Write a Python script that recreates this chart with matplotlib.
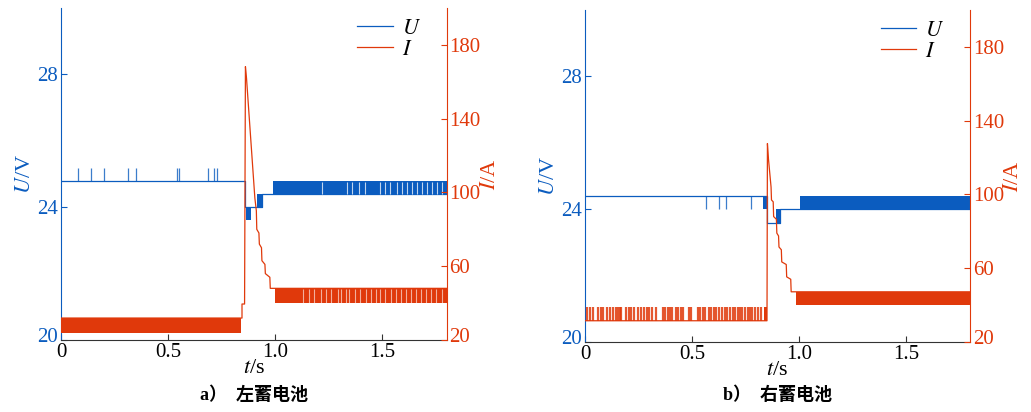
import matplotlib.pyplot as plt
import matplotlib.transforms as mtransforms
import numpy as np

plt.rcParams['font.family'] = ['Liberation Serif', 'Noto Sans CJK SC', 'DejaVu Sans']
plt.rcParams['mathtext.fontset'] = 'stix'

BLUE = '#0b5cbf'
RED = '#e0390b'

# ---- panel a) left battery ----
ua_t = [0, 0.858, 0.937, 1.8]
ua_v = [24.79, 24.0, 24.39, 24.39]
ua_bands = [(0.864, 0.886, 23.6, 24.0), (0.913, 0.937, 24.0, 24.39), (0.989, 1.8, 24.39, 24.79)]
ua_spikes = [0.081, 0.139, 0.201, 0.315, 0.350, 0.541, 0.553, 0.684, 0.715, 0.730]
ua_spike_lo, ua_spike_hi = 24.79, 25.19
ua_gaps = [1.218, 1.335, 1.358, 1.389, 1.420, 1.490, 1.514, 1.537, 1.568, 1.592,
           1.615, 1.638, 1.662, 1.685, 1.708, 1.732, 1.755, 1.778]

ia_t = [0, 0.845, 0.845, 0.857, 0.861, 0.866, 0.905, 0.912, 0.914, 0.924, 0.926,
        0.936, 0.938, 0.952, 0.954, 0.975, 0.977, 1.8]
ia_v = [31.9, 31.9, 39.5, 39.5, 168.2, 162.0, 97.0, 90.0, 80.0, 78.0, 72.0,
        70.0, 63.0, 61.0, 56.0, 54.0, 48.0, 48.0]
ia_bands = [(0, 0.84, 23.8, 31.9), (1.0, 1.8, 40.0, 48.0)]
ia_gaps = [1.128, 1.156, 1.183, 1.214, 1.238, 1.262, 1.293, 1.308, 1.329, 1.344,
           1.371, 1.394, 1.422, 1.448, 1.472, 1.490, 1.515, 1.541, 1.565, 1.588,
           1.611, 1.635, 1.658, 1.682, 1.705, 1.728, 1.752, 1.780]

# ---- panel b) right battery ----
ub_t = [0, 0.852, 0.913, 1.8]
ub_v = [24.4, 23.59, 24.0, 24.0]
ub_bands = [(0.833, 0.849, 24.0, 24.4), (0.892, 0.913, 23.59, 24.0), (1.003, 1.8, 24.0, 24.4)]
ub_spikes = [0.566, 0.628, 0.660, 0.776]
ub_spike_lo, ub_spike_hi = 24.0, 24.4

ib_t = [0, 0.851, 0.853, 0.858, 0.870, 0.872, 0.880, 0.882, 0.895, 0.897, 0.905,
        0.907, 0.918, 0.920, 0.941, 0.943, 0.962, 0.964, 1.8]
ib_v = [31.5, 31.5, 127.6, 119.0, 104.0, 97.0, 96.0, 88.0, 86.5, 79.0, 77.5,
        71.5, 70.0, 63.4, 62.0, 55.3, 54.0, 47.2, 47.2]
ib_bands = [(0.835, 0.852, 31.5, 39.1), (0.988, 1.8, 40.0, 47.2)]
ib_spikes = [0.011, 0.023, 0.039, 0.062, 0.073, 0.085, 0.103, 0.116, 0.131, 0.143,
             0.154, 0.162, 0.170, 0.193, 0.205, 0.216, 0.231, 0.247, 0.262, 0.278,
             0.290, 0.301, 0.313, 0.332, 0.363, 0.375, 0.386, 0.396, 0.409, 0.424,
             0.437, 0.448, 0.458, 0.486, 0.498, 0.529, 0.540, 0.551, 0.563, 0.579,
             0.591, 0.602, 0.613, 0.625, 0.640, 0.653, 0.664, 0.679, 0.690, 0.702,
             0.715, 0.725, 0.736, 0.748, 0.761, 0.772, 0.782, 0.795, 0.810, 0.823]
ib_spike_lo, ib_spike_hi = 31.5, 39.1

x_ticks = [0, 0.5, 1.0, 1.5]
x_labels = ['0', '0.5', '1.0', '1.5']
u_ticks = [20, 24, 28]
i_ticks = [20, 60, 100, 140, 180]

panels = [
    dict(rect=[0.0592, 0.1748, 0.3739, 0.8058], ut=ua_t, uv=ua_v, ubands=ua_bands,
         uspikes=ua_spikes, uslo=ua_spike_lo, ushi=ua_spike_hi, ugaps=ua_gaps,
         it=ia_t, iv=ia_v, ibands=ia_bands, ispikes=[], islo=0, ishi=0, igaps=ia_gaps,
         caption='a）  左蓄电池'),
    dict(rect=[0.5674, 0.1700, 0.3734, 0.8057], ut=ub_t, uv=ub_v, ubands=ub_bands,
         uspikes=ub_spikes, uslo=ub_spike_lo, ushi=ub_spike_hi, ugaps=[],
         it=ib_t, iv=ib_v, ibands=ib_bands, ispikes=ib_spikes, islo=ib_spike_lo,
         ishi=ib_spike_hi, igaps=[], caption='b）  右蓄电池'),
]

fig = plt.figure(figsize=(10.31, 4.12), dpi=100)
lift = mtransforms.ScaledTranslation(0, 5 / 100, fig.dpi_scale_trans)

for p in panels:
    ax = fig.add_axes(p['rect'])
    ax2 = ax.twinx()

    # voltage
    lu, = ax.plot(p['ut'], p['uv'], drawstyle='steps-post', color=BLUE, lw=0.9)
    for t0, t1, lo, hi in p['ubands']:
        ax.fill_between([t0, t1], lo, hi, color=BLUE, lw=0, step='post')
    if p['uspikes']:
        ax.vlines(p['uspikes'], p['uslo'], p['ushi'], color=BLUE, lw=0.9, alpha=0.8)
    if p['ugaps']:
        lo, hi = p['ubands'][-1][2], p['ubands'][-1][3]
        ax.vlines(p['ugaps'], lo + 0.02, hi - 0.02, color='white', lw=0.8, alpha=0.75)

    # current
    li, = ax2.plot(p['it'], p['iv'], color=RED, lw=0.9)
    for t0, t1, lo, hi in p['ibands']:
        ax2.fill_between([t0, t1], lo, hi, color=RED, lw=0, step='post')
    if p['ispikes']:
        ax2.vlines(p['ispikes'], p['islo'], p['ishi'], color=RED, lw=1.6, alpha=0.85)
    if p['igaps']:
        lo, hi = p['ibands'][-1][2], p['ibands'][-1][3]
        ax2.vlines(p['igaps'], lo + 0.3, hi - 0.3, color='white', lw=0.8, alpha=0.6)

    ax.set_xlim(0, 1.8)
    ax.set_ylim(20, 30)
    ax2.set_ylim(20, 200)
    ax.set_xticks(x_ticks)
    ax.set_xticklabels(x_labels)
    ax.set_yticks(u_ticks)
    ax2.set_yticks(i_ticks)

    for a in (ax, ax2):
        a.spines['top'].set_visible(False)
    ax.spines['right'].set_visible(False)
    ax.spines['left'].set_color(BLUE)
    ax2.spines['left'].set_visible(False)
    ax2.spines['right'].set_color(RED)
    ax.spines['bottom'].set_color('#333333')
    ax2.spines['bottom'].set_visible(False)

    ax.tick_params(axis='x', direction='in', length=4, labelsize=15, colors='black', pad=2)
    ax.tick_params(axis='x', color='#333333')
    ax.tick_params(axis='y', direction='in', length=4, labelsize=15, colors=BLUE, pad=2)
    ax2.tick_params(axis='y', direction='in', length=4, labelsize=15, colors=RED, pad=2)

    # lowest y labels sit a little above the corner, as in the original
    for a in (ax, ax2):
        lab = a.yaxis.get_major_ticks()[0]
        lab.label1.set_transform(lab.label1.get_transform() + lift)
        lab.label2.set_transform(lab.label2.get_transform() + lift)

    ax.set_ylabel('$U$/V', color=BLUE, fontsize=16, labelpad=2)
    ax2.set_ylabel('$I$/A', color=RED, fontsize=16, labelpad=0, rotation=90)
    ax.set_xlabel('$t$/s', fontsize=16, labelpad=-2)

    ax2.legend([lu, li], ['$U$', '$I$'], loc='upper right', bbox_to_anchor=(0.985, 1.03),
               frameon=False, fontsize=16, handlelength=1.6, labelspacing=0.05,
               handletextpad=0.4)

    x0, y0, w, h = p['rect']
    fig.text(x0 + w * 0.5, 0.02, p['caption'], ha='center', va='bottom', fontsize=13,
             family=['Liberation Serif', 'Noto Sans CJK SC'], weight='bold')

fig.savefig('out.png', dpi=100)
